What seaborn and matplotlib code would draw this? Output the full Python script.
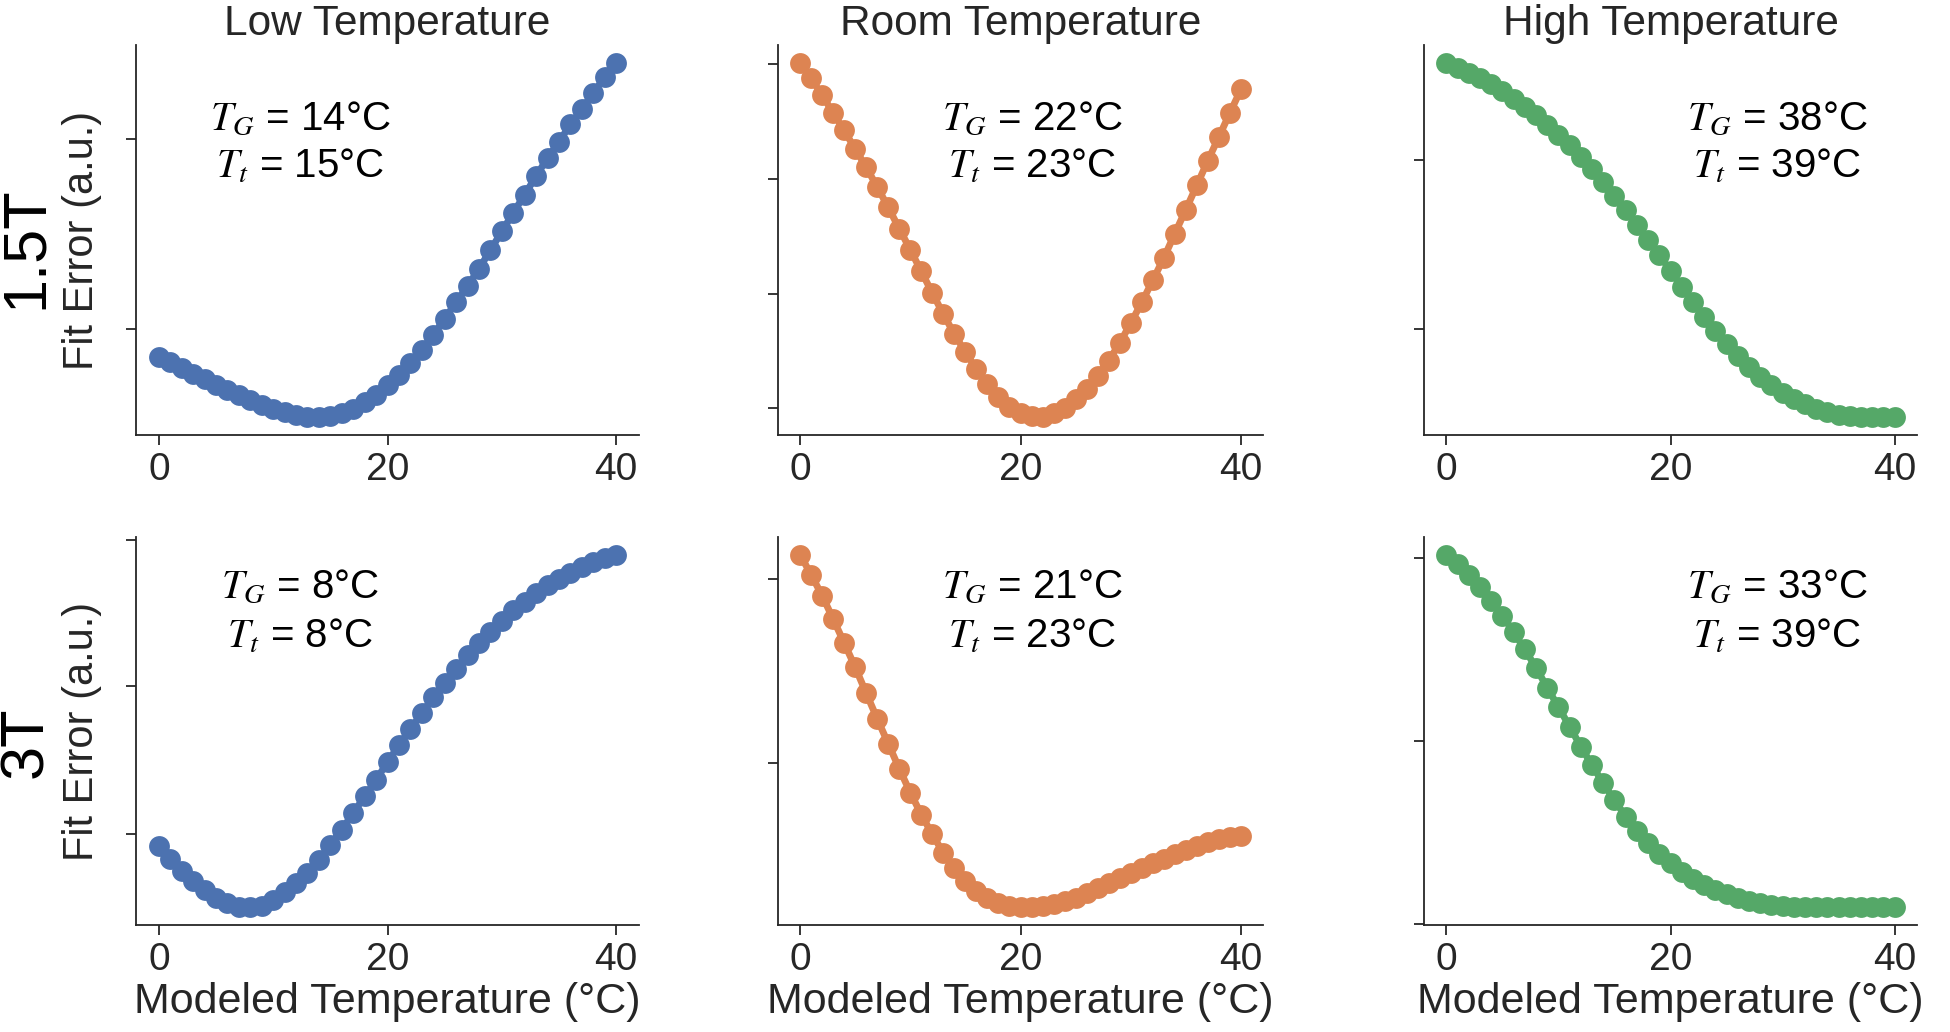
import matplotlib
matplotlib.use("Agg")
import matplotlib.pyplot as plt
import seaborn as sns

# === data (fit error in arbitrary units) ===
modeled_temp = [0, 1, 2, 3, 4, 5, 6, 7, 8, 9, 10, 11, 12, 13, 14, 15, 16, 17, 18, 19, 20,
                21, 22, 23, 24, 25, 26, 27, 28, 29, 30, 31, 32, 33, 34, 35, 36, 37, 38, 39, 40]

low_15t = [237, 220, 202, 185, 170, 153, 138, 122, 107, 93, 80, 70, 62, 57, 55, 58, 67, 80, 100, 122, 152,
           182, 217, 258, 302, 350, 400, 448, 500, 555, 612, 667, 722, 777, 832, 880, 932, 978, 1027, 1073, 1117]
room_15t = [1115, 1068, 1018, 965, 912, 857, 802, 743, 682, 618, 555, 490, 425, 362, 302, 248, 198, 153, 115, 85, 65,
            56, 53, 65, 82, 107, 138, 178, 223, 275, 335, 397, 463, 530, 603, 675, 748, 822, 893, 965, 1035]
high_15t = [1117, 1102, 1087, 1070, 1052, 1032, 1010, 985, 960, 930, 900, 870, 835, 800, 760, 720, 677, 632, 587, 542, 495,
            447, 402, 357, 315, 277, 240, 207, 178, 152, 130, 112, 97, 83, 72, 65, 60, 58, 57, 58, 58]

low_3t = [237, 198, 162, 132, 105, 82, 65, 55, 53, 58, 75, 100, 125, 157, 197, 242, 287, 337, 387, 437, 490,
          542, 590, 637, 687, 728, 772, 812, 848, 882, 915, 947, 972, 998, 1023, 1043, 1060, 1077, 1092, 1105, 1115]
room_3t = [1113, 1053, 990, 920, 848, 775, 697, 620, 545, 470, 398, 332, 272, 217, 172, 132, 102, 80, 67, 58, 55,
           53, 57, 63, 72, 82, 95, 110, 125, 140, 155, 170, 185, 198, 212, 225, 237, 248, 257, 263, 268]
high_3t = [1115, 1087, 1055, 1018, 977, 932, 882, 830, 775, 715, 657, 598, 538, 482, 428, 377, 328, 285, 247, 215, 188,
           162, 140, 123, 107, 95, 83, 75, 68, 63, 60, 57, 56, 55, 56, 56, 56, 56, 57, 57, 57]

yticks_15t = [[318, 890], [80, 423, 767, 1112], [320, 827]]
yticks_3t = [[275, 718, 1160], [487, 1040], [5, 555, 1105]]

t_g = [[14, 22, 38], [8, 21, 33]]
t_t = [[15, 23, 39], [8, 23, 39]]

col_titles = ['Low Temperature', 'Room Temperature', 'High Temperature']
row_labels = ['1.5T', '3T']
series = [[low_15t, room_15t, high_15t], [low_3t, room_3t, high_3t]]
yticks = [yticks_15t, yticks_3t]

# === style ===
sns.set_theme(style='ticks')
plt.rcParams['font.family'] = ['Liberation Sans', 'DejaVu Sans']
plt.rcParams['mathtext.fontset'] = 'stix'
palette = sns.color_palette('deep')
colors = [palette[0], palette[1], palette[2]]

fig = plt.figure(figsize=(19.5, 10.32), dpi=100)
W, H = 1950, 1032
col_left = [136, 778, 1424]
col_width = [503, 485, 493]
row_top = [45, 537]
row_height = [390, 388]

# annotation placement (axes fraction)
txt_x = [0.326, 0.524, 0.717]
txt_y = [[0.782, 0.659], [0.843, 0.716]]
row_label_y = [0.48, 0.47]

for r in range(2):
    for c in range(3):
        ax = fig.add_axes([col_left[c] / W, 1 - (row_top[r] + row_height[r]) / H,
                           col_width[c] / W, row_height[r] / H])
        sns.lineplot(x=modeled_temp, y=series[r][c], ax=ax, color=colors[c],
                     marker='o', markersize=15, linewidth=5,
                     markeredgewidth=0, markeredgecolor=colors[c])
        ax.set_xticks([0, 20, 40])
        ax.set_yticks(yticks[r][c])
        ax.set_yticklabels([])
        ax.tick_params(axis='both', length=7, width=1.3, color='.15',
                       labelsize=28, pad=5)
        for s in ['left', 'bottom']:
            ax.spines[s].set_linewidth(1.3)
            ax.spines[s].set_color('.15')
        sns.despine(ax=ax)

        if r == 0:
            ax.set_title(col_titles[c], fontsize=30.5, color='.15', pad=7)
        if r == 1:
            ax.set_xlabel('Modeled Temperature (°C)', fontsize=31, color='.15', labelpad=3)
        if c == 0:
            ax.set_ylabel('Fit Error (a.u.)', fontsize=30, color='.15')
            ax.yaxis.set_label_coords(-0.068, 0.5)
            ax.text(-0.217, row_label_y[r], row_labels[r], transform=ax.transAxes,
                    rotation=90, ha='center', va='center', fontsize=44, color='black')

        ax.text(txt_x[c], txt_y[r][0], r'$T_G$' + f' = {t_g[r][c]}°C', transform=ax.transAxes,
                ha='center', va='baseline', fontsize=29, color='black')
        ax.text(txt_x[c], txt_y[r][1], r'$T_t$' + f' = {t_t[r][c]}°C', transform=ax.transAxes,
                ha='center', va='baseline', fontsize=29, color='black')

fig.savefig('out.png', dpi=100)
